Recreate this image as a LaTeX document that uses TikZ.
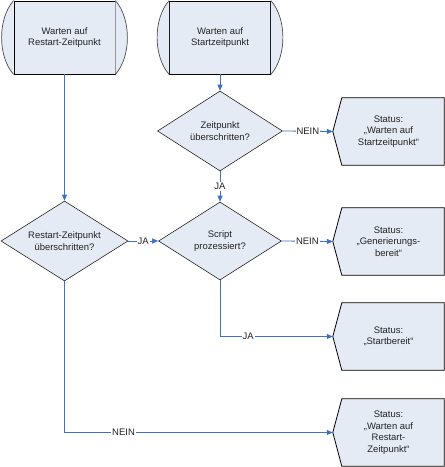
\documentclass[tikz,border=0pt]{standalone}
\usepackage{fontspec}
\setmainfont{Liberation Sans}
\usetikzlibrary{shapes.geometric,arrows.meta,calc}
\definecolor{boxfill}{RGB}{229,235,245}
\definecolor{flow}{RGB}{65,113,196}
\definecolor{txt}{RGB}{35,35,35}
\begin{document}
\begin{tikzpicture}[x=1bp,y=-1bp,
  font=\fontsize{9.5}{11.5}\selectfont, text=txt,
  store/.style={rectangle, draw=black, line width=0.8bp, fill=boxfill, minimum width=101bp, minimum height=73bp, inner sep=0, align=center},
  capline/.style={draw=black!70, line width=0.7bp, fill=boxfill},
  decision/.style={diamond, draw=black!85, line width=0.6bp, fill=boxfill, inner sep=0},
  status/.style={rectangle, minimum width=111bp, minimum height=67bp, inner sep=0, align=center},
  statusline/.style={draw=black, line width=0.8bp, fill=boxfill},
  flowline/.style={draw=flow, line width=0.8bp, -{Triangle[length=6bp,width=5bp]}},
  lbl/.style={fill=white, inner sep=1bp, text=txt}]
\useasboundingbox (0,0) rectangle (445,467);

% stored-data start nodes
\node[store] (sA) at (64.5,37.5) {Warten auf\\Restart-Zeitpunkt};
\node[store] (sB) at (220,37.5) {Warten auf\\Startzeitpunkt};
\foreach \n in {sA,sB}{
  \path[capline] (\n.north west) .. controls +(-16,18) and +(-16,-18) .. (\n.south west);
  \path[capline] (\n.north east) .. controls +(16,18) and +(16,-18) .. (\n.south east);
}

% decisions
\node[decision, minimum width=125bp, minimum height=80bp,
  label={[align=center]center:Zeitpunkt\\überschritten?}] (d1) at (220,131) {};
\node[decision, minimum width=123bp, minimum height=78bp,
  label={[align=center]center:Script\\prozessiert?}] (d2) at (220,241) {};
\node[decision, minimum width=127bp, minimum height=80bp,
  label={[align=center]center:Restart-Zeitpunkt\\überschritten?}] (d3) at (64.5,241) {};

% status nodes
\node[status] (st1) at (388.5,131.5) {};
\node[status] (st2) at (388.5,241.5) {};
\node[status] (st3) at (388.5,336.5) {};
\node[status] (st4) at (388.5,432.5) {};
\foreach \n in {st1,st2,st3,st4}{
  \path[statusline] ([xshift=9bp]\n.north west) -- (\n.north east) -- (\n.south east)
     -- ([xshift=9bp]\n.south west) -- (\n.west) -- cycle;
}
\node[align=center] at (st1) {Status:\\„Warten auf\\Startzeitpunkt“};
\node[align=center] at (st2) {Status:\\„Generierungs-\\bereit“};
\node[align=center] at (st3) {Status:\\„Startbereit“};
\node[align=center] at (st4) {Status:\\„Warten auf\\Restart-\\Zeitpunkt“};

% connectors
\draw[flowline] (sA.south) -- (d3.north);
\draw[flowline] (sB.south) -- (d1.north);
\draw[flowline] (d1.south) -- node[lbl]{JA} (d2.north);
\draw[flowline] (d1.east) -- node[lbl]{NEIN} (st1.west);
\draw[flowline] (d3.east) -- node[lbl]{JA} (d2.west);
\draw[flowline] (d2.east) -- node[lbl]{NEIN} (st2.west);
\draw[flowline] (d2.south) |- node[lbl, pos=0.625]{JA} (st3.west);
\draw[flowline] (d3.south) |- node[lbl, pos=0.61]{NEIN} (st4.west);
\end{tikzpicture}
\end{document}
